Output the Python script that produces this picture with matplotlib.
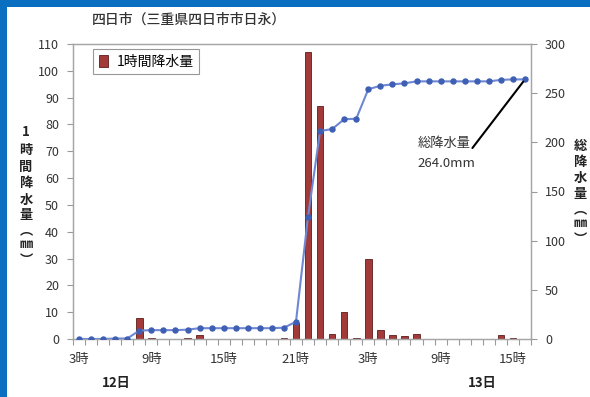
import matplotlib
matplotlib.use("Agg")
import matplotlib.pyplot as plt
from matplotlib.patches import Rectangle
from matplotlib.transforms import blended_transform_factory
import numpy as np

plt.rcParams['font.family'] = ['Noto Sans CJK JP', 'DejaVu Sans']

# hour of day for each observation (12th 3時 through 13th 16時)
hours = list(range(3, 24)) + list(range(0, 17))
# hourly precipitation (mm)
hourly = [0, 0, 0, 0.5, 0, 8.0, 0.5, 0, 0, 0.5, 1.5, 0, 0, 0, 0, 0, 0, 0.5, 6.0,
          107.0, 87.0, 2.0, 10.0, 0.5, 30.0, 3.5, 1.5, 1.0, 2.0, 0, 0, 0, 0, 0, 0,
          1.5, 0.5, 0]
total = np.cumsum(hourly)
left_ticks = list(range(0, 111, 10))
right_ticks = list(range(0, 301, 50))
day_labels = [(3.1, "12日"), (33.5, "13日")]
title = "四日市（三重県四日市市日永）"
left_label = ["1", "時", "間", "降", "水", "量", "︵", "㎜", "︶"]
right_label = ["総", "降", "水", "量", "︵", "㎜", "︶"]

W, H = 590, 397
fig = plt.figure(figsize=(W / 100, H / 100), dpi=100)
fig.patch.set_facecolor('white')
# blue frame along the top and left edges
for rect in [(0, 1 - 7 / H, 1, 7 / H), (0, 0, 7 / W, 1)]:
    fig.patches.append(Rectangle(rect[:2], rect[2], rect[3], transform=fig.transFigure,
                                 facecolor='#0a6fc0', edgecolor='none'))

def fx(px):
    return px / W

def fy(py):
    return 1 - py / H

ax = fig.add_axes([fx(73), fy(339), fx(531) - fx(73), fy(44) - fy(339)])
x = np.arange(len(hours))
bars = ax.bar(x, hourly, width=0.55, color='#a33a3a', edgecolor='#5e1c1c', linewidth=0.6,
              label='1時間降水量', zorder=2)
ax.set_xlim(-0.5, len(hours) - 0.5)
ax.set_ylim(0, 110)
ax.set_yticks(left_ticks)
ax.set_xticks(x[::6])
ax.set_xticklabels([f"{h}時" for h in hours[::6]])
ax.set_xticks(np.arange(-0.5, len(hours), 1), minor=True)
ax.tick_params(axis='x', which='major', length=0, pad=10, labelsize=9.5, labelcolor='#333333')
ax.tick_params(axis='x', which='minor', length=4, color='#9a9a9a', width=0.8)
ax.tick_params(axis='y', length=4, color='#9a9a9a', width=0.8, labelsize=9,
               labelcolor='#333333', pad=6)
for s in ['left', 'bottom', 'top', 'right']:
    ax.spines[s].set_color('#a6a6a6')
    ax.spines[s].set_linewidth(1.0)

ax2 = ax.twinx()
ax2.plot(x, total, color='#6f88d4', lw=1.5, marker='o', markersize=3.6,
         markerfacecolor='#3e5fb4', markeredgecolor='#3e5fb4', zorder=3)
ax2.set_ylim(0, 300)
ax2.set_yticks(right_ticks)
ax2.tick_params(axis='y', length=4, color='#9a9a9a', width=0.8, labelsize=9,
                labelcolor='#333333', pad=6)
for s in ['left', 'bottom', 'top', 'right']:
    ax2.spines[s].set_color('#a6a6a6')

# total annotation pointing at the final value
ax2.annotate("", xy=(x[-1], total[-1]), xytext=(32.5, 192),
             arrowprops=dict(arrowstyle='-', color='black', lw=1.5))
ax2.text(28.1, 199, "総降水量", fontsize=9.5, color='#333333', va='center', ha='left')
ax2.text(28.1, 178, f"{total[-1]:.1f}mm", fontsize=9.5, color='#333333',
         va='center', ha='left')

leg = ax.legend(loc='upper left', bbox_to_anchor=(fx(93), fy(49)),
                bbox_transform=fig.transFigure, fontsize=10, frameon=True, fancybox=False,
                handlelength=0.7, handleheight=0.9, handletextpad=0.6, borderpad=0.4,
                borderaxespad=0)
leg.get_frame().set_edgecolor('#7f7f7f')
leg.get_frame().set_linewidth(0.8)
leg.get_frame().set_boxstyle('square', pad=0.0)

fig.text(fx(189), fy(20), title, fontsize=10, fontweight='medium', color='#333333',
         ha='center', va='center')

trans = blended_transform_factory(ax.transData, fig.transFigure)
for pos, lab in day_labels:
    ax.text(pos, fy(383), lab, transform=trans, fontsize=9.5, fontweight='bold',
            color='#222222', ha='center', va='center')

ys = [132, 150, 167, 183, 200, 215, 230, 244, 260]
for ch, yy in zip(left_label, ys):
    fig.text(fx(26), fy(yy), ch, fontsize=9.5, fontweight='bold', color='#222222',
             ha='center', va='center')
ys = [146, 162, 178, 194, 209, 223, 239]
for ch, yy in zip(right_label, ys):
    fig.text(fx(580), fy(yy), ch, fontsize=9.5, fontweight='bold', color='#222222',
             ha='center', va='center')

fig.savefig("out.png", dpi=100)
